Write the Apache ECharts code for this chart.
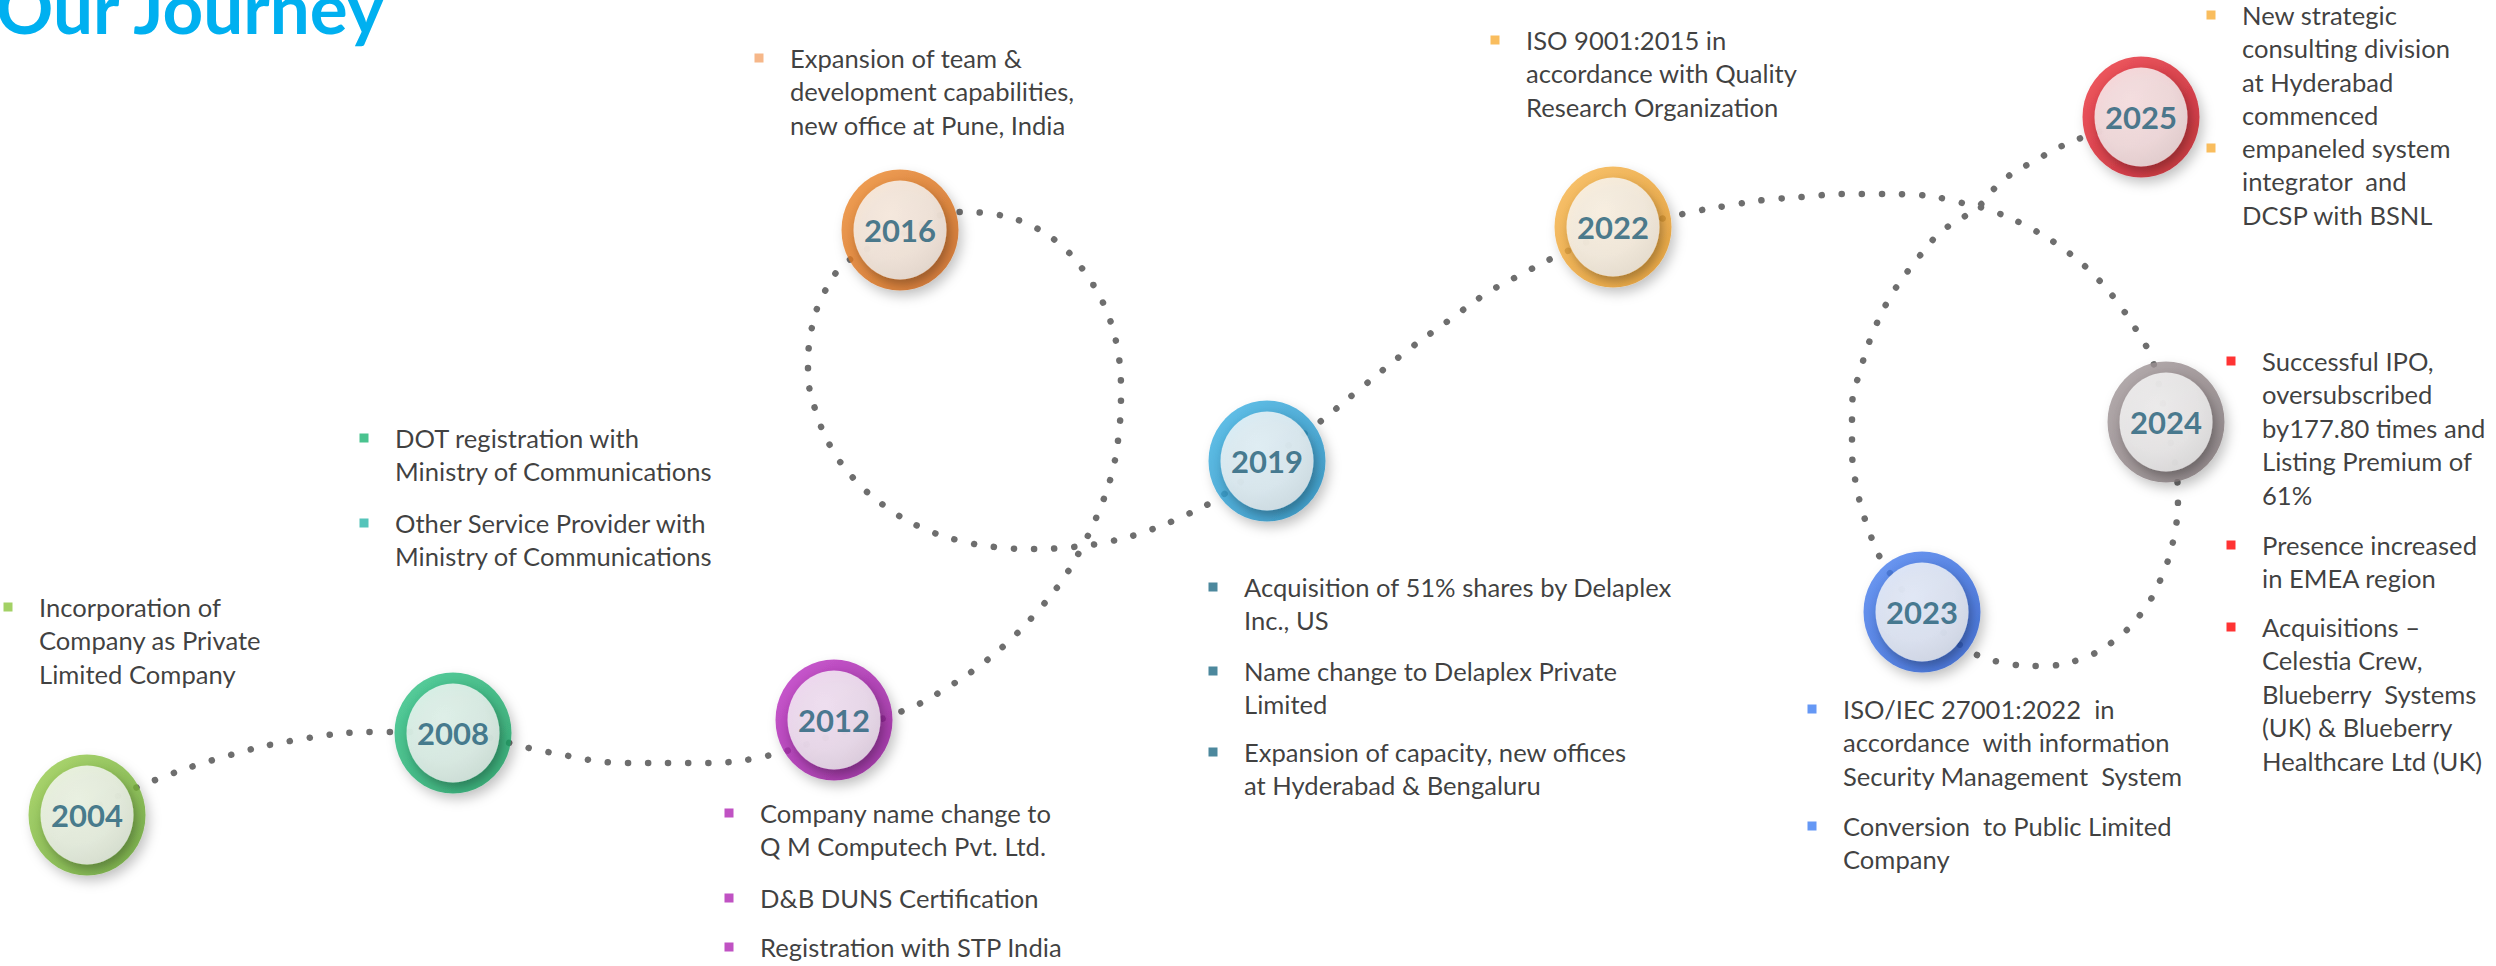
<!DOCTYPE html>
<html>
<head>
<meta charset="utf-8">
<title>Our Journey</title>
<script src="https://cdn.jsdelivr.net/npm/echarts@6/dist/echarts.min.js"></script>
<style>
  html, body { margin: 0; padding: 0; background: #fff; }
  #chart { width: 2496px; height: 966px; }
</style>
</head>
<body>
<div id="chart"></div>
<script>
// milestones, in the order they appear on the path
const years = ['2004', '2008', '2012', '2016', '2019', '2022', '2024', '2023', '2025']
// node centres (page pixels, y grows downwards)
const nodeX = [87, 453, 834, 900, 1267, 1613, 2166, 1922, 2141]
const nodeY = [815, 733, 720, 230, 461, 227, 422, 612, 117]

// dotted journey path, traced point by point
const pathX = [100, 145, 220, 296, 374, 453, 548, 626, 700, 762, 834, 910, 945, 978, 1008, 1036, 1061, 1082,
  1099, 1112, 1119, 1121, 1118, 1107, 1088, 1063, 1030, 993, 960, 900, 848, 824, 811, 808, 816, 832, 856,
  886, 920, 957, 995, 1034, 1073, 1112, 1150, 1186, 1220, 1267, 1316, 1361, 1408, 1448, 1487, 1522, 1557,
  1613, 1687, 1726, 1764, 1803, 1842, 1881, 1920, 1958, 1995, 2032, 2065, 2095, 2121, 2143, 2152, 2166,
  2178, 2174, 2162, 2143, 2115, 2081, 2042, 2004, 1968, 1922, 1884, 1868, 1857, 1852, 1852, 1861, 1874,
  1892, 1915, 1941, 1978, 2002, 2036, 2071, 2120]
const pathY = [805, 784, 758, 740, 732, 733, 752, 763, 763, 757, 735, 708, 689, 667, 642, 613, 582, 547,
  511, 473, 432, 392, 352, 312, 277, 247, 225, 214, 212, 235, 261, 293, 332, 372, 412, 449, 481,
  507, 527, 540, 547, 549, 547, 541, 530, 515, 497, 461, 425, 388, 350, 321, 293, 274, 256,
  232, 213, 206, 200, 197, 194, 194, 195, 202, 212, 229, 250, 276, 307, 341, 358, 420,
  497, 537, 576, 611, 640, 659, 666, 663, 650, 612, 564, 528, 489, 448, 408, 368, 330,
  294, 262, 232, 207, 181, 160, 142, 125]

const notes = [
  'Incorporation of\nCompany as Private\nLimited Company',
  'DOT registration with\nMinistry of Communications',
  'Other Service Provider with\nMinistry of Communications',
  'Company name change to\nQ M Computech Pvt. Ltd.',
  'D&B DUNS Certification',
  'Registration with STP India',
  'Expansion of team &\ndevelopment capabilities,\nnew office at Pune, India',
  'Acquisition of 51% shares by Delaplex\nInc., US',
  'Name change to Delaplex Private\nLimited',
  'Expansion of capacity, new offices\nat Hyderabad & Bengaluru',
  'ISO 9001:2015 in\naccordance with Quality\nResearch Organization',
  'ISO/IEC 27001:2022  in\naccordance  with information\nSecurity Management  System',
  'Conversion  to Public Limited\nCompany',
  'Successful IPO,\noversubscribed\nby177.80 times and\nListing Premium of\n61%',
  'Presence increased\nin EMEA region',
  'Acquisitions \u2013\nCelestia Crew,\nBlueberry  Systems\n(UK) & Blueberry\nHealthcare Ltd (UK)',
  'New strategic\nconsulting division\nat Hyderabad\ncommenced',
  'empaneled system\nintegrator  and\nDCSP with BSNL'
]

// layout: bullet position of each note
const noteX = [8, 364, 364, 729, 729, 729, 759, 1213, 1213, 1213, 1495, 1812, 1812, 2231, 2231, 2231, 2211, 2211]
const noteY = [607, 438, 523, 813, 898, 947, 58, 587, 671, 752, 40, 709, 826, 361, 545, 627, 15, 148]

// styles
const ringColors = [
  ['#9BCF4E', '#5E9E2A'], ['#2DC486', '#179A5C'], ['#C02FC6', '#8A1690'],
  ['#F08A2C', '#C75E12'], ['#3DB4E6', '#1C86BA'], ['#F8B54A', '#E2931E'],
  ['#A59A9C', '#7B7072'], ['#4A82F2', '#2457CC'], ['#F0303A', '#B8101C']
]
const bulletColors = ['#8CC63F', '#1DB473', '#2BB5A9', '#B027B4', '#B027B4', '#B027B4', '#F4A56C',
  '#1F6A84', '#1F6A84', '#1F6A84', '#F8AC36', '#3E7EF2', '#3E7EF2', '#FF0000', '#FF0000', '#FF0000',
  '#F8AC36', '#F8AC36']

const W = 2496
const H = 966
const textFont = 'Lato'
const lineH = 33.4

const chart = echarts.init(document.getElementById('chart'), null, { renderer: 'svg' })

chart.setOption({
  animation: false,
  backgroundColor: '#ffffff',
  grid: { left: 0, right: 0, top: 0, bottom: 0 },
  xAxis: { type: 'value', min: 0, max: W, show: false },
  yAxis: { type: 'value', min: 0, max: H, inverse: true, show: false },
  graphic: [
    {
      type: 'text',
      x: -4,
      y: 6,
      style: {
        text: 'Our Journey',
        fontFamily: textFont,
        fontWeight: 'bold',
        fontSize: 71,
        fill: '#00B0F0',
        align: 'left',
        verticalAlign: 'middle'
      }
    }
  ],
  series: [
    {
      // dotted path
      type: 'line',
      data: pathX.map((x, i) => [x, pathY[i]]),
      smooth: 0.4,
      symbol: 'none',
      clip: false,
      z: 1,
      lineStyle: { color: '#6E6E6E', width: 6.5, type: [0.1, 20], cap: 'round' }
    },
    {
      // coloured rings
      type: 'scatter',
      data: years.map((y, i) => ({
        value: [nodeX[i], nodeY[i]],
        itemStyle: {
          color: {
            type: 'linear', x: 0, y: 0, x2: 1, y2: 1,
            colorStops: [{ offset: 0, color: ringColors[i][0] }, { offset: 1, color: ringColors[i][1] }]
          }
        }
      })),
      symbol: 'circle',
      symbolSize: [117, 121],
      clip: false,
      z: 3,
      itemStyle: { shadowBlur: 12, shadowColor: 'rgba(0,0,0,0.28)', shadowOffsetX: 4, shadowOffsetY: 6 }
    },
    {
      // white discs with the year
      type: 'scatter',
      data: years.map((y, i) => ({ value: [nodeX[i], nodeY[i]], name: y })),
      symbol: 'circle',
      symbolSize: [93, 99],
      clip: false,
      z: 4,
      itemStyle: {
        color: {
          type: 'radial', x: 0.4, y: 0.35, r: 0.75,
          colorStops: [{ offset: 0, color: '#ffffff' }, { offset: 0.6, color: '#f7f7f7' }, { offset: 1, color: '#e8e8e8' }]
        },
        shadowBlur: 9,
        shadowColor: 'rgba(0,0,0,0.32)',
        shadowOffsetX: 3,
        shadowOffsetY: 5
      },
      label: {
        show: true,
        position: 'inside',
        formatter: p => p.name,
        fontFamily: textFont,
        fontWeight: 'bold',
        fontSize: 31,
        color: '#1D5C76'
      }
    },
    {
      // bullet notes
      type: 'scatter',
      data: notes.map((t, i) => ({
        value: [noteX[i], noteY[i]],
        name: t,
        itemStyle: { color: bulletColors[i] }
      })),
      symbol: 'rect',
      symbolSize: 9,
      clip: false,
      z: 5,
      label: {
        show: true,
        position: [35.5, 4.5 - lineH / 2],
        align: 'left',
        verticalAlign: 'top',
        formatter: p => p.name,
        fontFamily: textFont,
        fontSize: 25.6,
        lineHeight: lineH,
        color: '#0d0d0d'
      }
    }
  ]
})
</script>
</body>
</html>
